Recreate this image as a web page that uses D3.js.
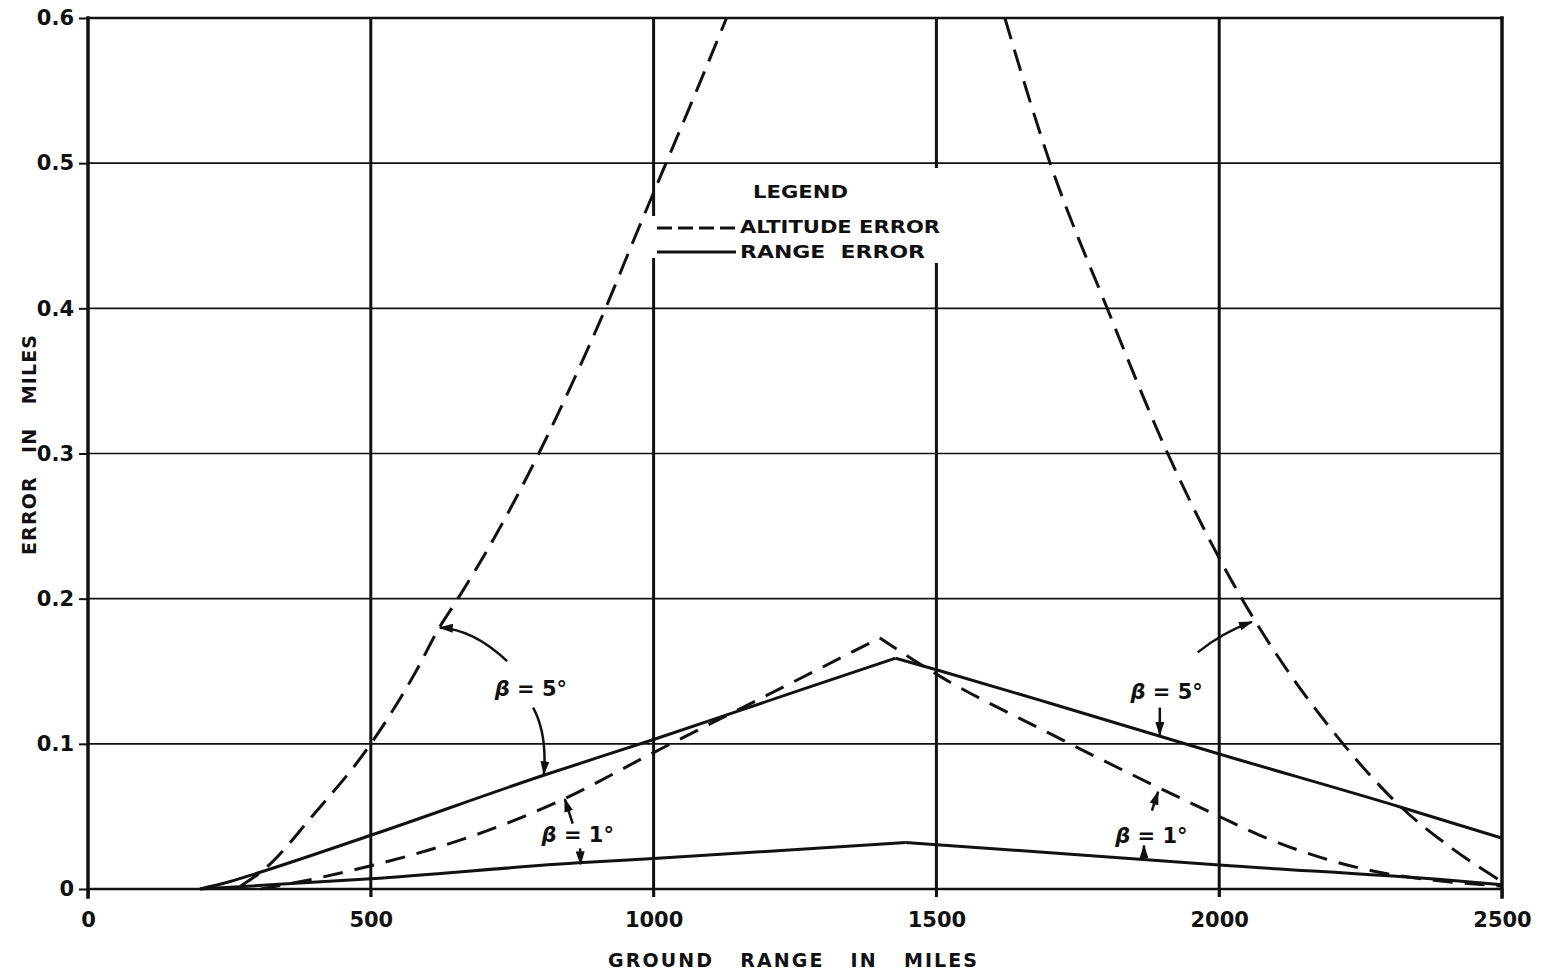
<!DOCTYPE html>
<html>
<head>
<meta charset="utf-8">
<script src="https://cdn.jsdelivr.net/npm/d3@7"></script>
<style>
  html, body { margin: 0; padding: 0; background: #fff; }
  svg { display: block; }
  text { font-family: "DejaVu Sans", sans-serif; font-weight: bold; fill: #111; }
</style>
</head>
<body>
<svg id="chart" width="1543" height="976"></svg>
<script>
// Axis ticks (ground range in miles, error in miles)
const xTicks = [0, 500, 1000, 1500, 2000, 2500];
const yTicks = [0, 0.1, 0.2, 0.3, 0.4, 0.5, 0.6];
const yTickLabels = ["0", "0.1", "0.2", "0.3", "0.4", "0.5", "0.6"];

// Altitude error, beta = 5 deg: the curve runs off the top of the grid,
// so it is kept as a rising and a falling branch.
const altitude5Rising = [[270, 0.002], [316, 0.015], [396, 0.05], [500, 0.10], [580, 0.15],
  [621, 0.18], [654, 0.20], [730, 0.25], [797, 0.30], [858, 0.35], [915, 0.40],
  [968, 0.45], [1022, 0.50], [1076, 0.55], [1129, 0.60]];
const altitude5Falling = [[1621, 0.60], [1701, 0.50], [1802, 0.40], [1909, 0.30],
  [2040, 0.20], [2063, 0.185], [2219, 0.10], [2320, 0.057], [2408, 0.029], [2500, 0.005]];

// Range error, beta = 5 deg
const range5 = [[198, 0], [250, 0.005], [300, 0.011], [500, 0.037], [803, 0.078],
  [1000, 0.103], [1259, 0.137], [1428, 0.159], [1500, 0.151], [1701, 0.128],
  [2000, 0.093], [2320, 0.0565], [2408, 0.046], [2500, 0.035]];

// Altitude error, beta = 1 deg
const altitude1 = [[305, 0], [400, 0.007], [500, 0.016], [621, 0.029], [739, 0.045],
  [836, 0.061], [1000, 0.094], [1259, 0.145], [1400, 0.173], [1500, 0.148],
  [1701, 0.107], [2000, 0.05], [2072, 0.037], [2290, 0.011], [2380, 0.006], [2500, 0.002]];

// Range error, beta = 1 deg
const range1 = [[198, 0], [500, 0.007], [867, 0.018], [1000, 0.021], [1445, 0.032],
  [1701, 0.025], [2000, 0.0165], [2408, 0.006], [2500, 0.003]];

// Curve call-outs (positions in miles / miles)
const betaLabels = [
  { text: "5°", x: 783, y: 0.137 },
  { text: "1°", x: 866, y: 0.0365 },
  { text: "5°", x: 1907, y: 0.135 },
  { text: "1°", x: 1880, y: 0.036 }
];
const betaArrows = [
  { from: [741, 0.157], via: [681, 0.179], to: [622, 0.180] },
  { from: [787, 0.125], via: [812, 0.107], to: [806, 0.079] },
  { from: [857, 0.045], to: [843, 0.062] },
  { from: [870, 0.028], to: [871, 0.017] },
  { from: [1962, 0.163], via: [2007, 0.177], to: [2058, 0.184] },
  { from: [1895, 0.125], to: [1895, 0.106] },
  { from: [1881, 0.054], to: [1892, 0.067] },
  { from: [1867, 0.020], to: [1867, 0.030] }
];

const svg = d3.select("#chart");
const ink = "#111";

const x = d3.scaleLinear().domain([0, 2500]).range([88, 1502]);
const y = d3.scaleLinear().domain([0, 0.6]).range([889, 18]);

// Grid
const grid = svg.append("g");
grid.selectAll("line.h").data(yTicks.filter(v => v > 0 && v < 0.6)).join("line")
  .attr("x1", x(0)).attr("x2", x(2500))
  .attr("y1", d => y(d)).attr("y2", d => y(d))
  .attr("stroke", ink).attr("stroke-width", 1.7);
grid.selectAll("line.v").data(xTicks.filter(v => v > 0 && v < 2500)).join("line")
  .attr("x1", d => x(d)).attr("x2", d => x(d))
  .attr("y1", y(0.6)).attr("y2", y(0) + 8)
  .attr("stroke", ink).attr("stroke-width", 3);

// Frame
const frame = svg.append("g").attr("stroke", ink).attr("stroke-linecap", "square");
frame.append("line").attr("x1", x(0)).attr("x2", x(0)).attr("y1", y(0.6)).attr("y2", y(0) + 8).attr("stroke-width", 3.5);
frame.append("line").attr("x1", x(2500)).attr("x2", x(2500)).attr("y1", y(0.6)).attr("y2", y(0) + 8).attr("stroke-width", 3.5);
frame.append("line").attr("x1", x(0)).attr("x2", x(2500)).attr("y1", y(0.6)).attr("y2", y(0.6)).attr("stroke-width", 2.5);
frame.append("line").attr("x1", x(0)).attr("x2", x(2500)).attr("y1", y(0)).attr("y2", y(0)).attr("stroke-width", 2.5);

// Axes (ticks + labels)
const yAxis = svg.append("g").attr("transform", `translate(${x(0)},0)`)
  .call(d3.axisLeft(y).tickValues(yTicks).tickSize(9).tickPadding(5)
    .tickFormat((d, i) => yTickLabels[i]));
const xAxis = svg.append("g").attr("transform", `translate(0,${y(0)})`)
  .call(d3.axisBottom(x).tickValues(xTicks).tickSize(8).tickPadding(15)
    .tickFormat(d3.format("d")));
[yAxis, xAxis].forEach(a => {
  a.select(".domain").remove();
  a.selectAll(".tick line").attr("stroke", ink).attr("stroke-width", 2);
  a.selectAll(".tick text").attr("font-size", 21).attr("fill", ink)
    .attr("font-family", "'DejaVu Sans', sans-serif").attr("font-weight", "bold");
});

// Legend panel (white backing interrupts the grid)
svg.append("rect").attr("x", 657).attr("y", 168).attr("width", 292).attr("height", 95).attr("fill", "#fff");
svg.append("rect").attr("x", 648).attr("y", 216).attr("width", 12).attr("height", 42).attr("fill", "#fff");

// Curves
const lineGen = d3.line().x(d => x(d[0])).y(d => y(d[1])).curve(d3.curveMonotoneX);
function drawSeries(data, dash) {
  // split at the peak so the apex stays sharp
  const k = d3.maxIndex(data, d => d[1]);
  const parts = (k > 0 && k < data.length - 1) ? [data.slice(0, k + 1), data.slice(k)] : [data];
  parts.forEach(p => {
    svg.append("path").attr("d", lineGen(p))
      .attr("fill", "none").attr("stroke", ink).attr("stroke-width", 3)
      .attr("stroke-linejoin", "round")
      .attr("stroke-dasharray", dash || null);
  });
}
drawSeries(altitude5Rising, "22,11");
drawSeries(altitude5Falling, "22,11");
drawSeries(altitude1, "20,12");
drawSeries(range5);
drawSeries(range1);

// Arrowhead marker
svg.append("defs").append("marker")
  .attr("id", "head").attr("viewBox", "0 0 14 9").attr("refX", 13).attr("refY", 4.5)
  .attr("markerWidth", 14).attr("markerHeight", 9).attr("markerUnits", "userSpaceOnUse")
  .attr("orient", "auto")
  .append("path").attr("d", "M0,0 L14,4.5 L0,9 Z").attr("fill", ink);

svg.selectAll("path.arrow").data(betaArrows).join("path")
  .attr("class", "arrow")
  .attr("d", d => {
    const f = [x(d.from[0]), y(d.from[1])], t = [x(d.to[0]), y(d.to[1])];
    if (d.via) {
      const v = [x(d.via[0]), y(d.via[1])];
      return `M${f[0]},${f[1]} Q${v[0]},${v[1]} ${t[0]},${t[1]}`;
    }
    return `M${f[0]},${f[1]} L${t[0]},${t[1]}`;
  })
  .attr("fill", "none").attr("stroke", ink).attr("stroke-width", 2.5)
  .attr("marker-end", "url(#head)");

const lbl = svg.selectAll("text.beta").data(betaLabels).join("text")
  .attr("class", "beta")
  .attr("x", d => x(d.x)).attr("y", d => y(d.y))
  .attr("text-anchor", "middle").attr("dominant-baseline", "middle")
  .attr("font-size", 21);
lbl.append("tspan").attr("font-style", "italic").text("β");
lbl.append("tspan").text(d => " = " + d.text);

// Legend
svg.append("text").attr("x", 753).attr("y", 198).attr("font-size", 18)
  .attr("textLength", 95).attr("lengthAdjust", "spacingAndGlyphs").text("LEGEND");
svg.append("line").attr("x1", 657).attr("x2", 736).attr("y1", 228).attr("y2", 228)
  .attr("stroke", ink).attr("stroke-width", 3).attr("stroke-dasharray", "15,6");
svg.append("line").attr("x1", 657).attr("x2", 736).attr("y1", 252).attr("y2", 252)
  .attr("stroke", ink).attr("stroke-width", 3);
svg.append("text").attr("x", 740).attr("y", 233).attr("font-size", 18)
  .attr("textLength", 200).attr("lengthAdjust", "spacingAndGlyphs").text("ALTITUDE ERROR");
svg.append("text").attr("x", 740).attr("y", 258).attr("font-size", 18)
  .attr("textLength", 185).attr("lengthAdjust", "spacingAndGlyphs")
  .style("white-space", "pre").text("RANGE  ERROR");

// Axis titles
svg.append("text").attr("x", 608).attr("y", 967).attr("font-size", 19)
  .attr("textLength", 369).attr("lengthAdjust", "spacing")
  .style("white-space", "pre").text("GROUND   RANGE   IN   MILES");
svg.append("text").attr("transform", "translate(36,555) rotate(-90)")
  .attr("font-size", 19).attr("textLength", 220).attr("lengthAdjust", "spacing")
  .style("white-space", "pre").text("ERROR   IN   MILES");
</script>
</body>
</html>
